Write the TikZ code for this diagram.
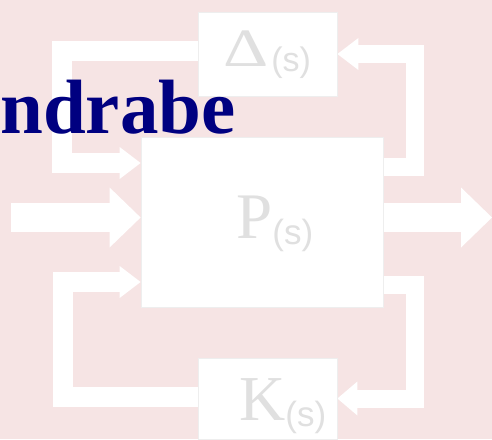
\documentclass[tikz,border=0pt]{standalone}
\usepackage{fontspec}
\setmainfont{Liberation Serif}
\newfontfamily\arialf{Liberation Sans}
\usetikzlibrary{arrows.meta}
\definecolor{bgpink}{RGB}{246,228,228}
\definecolor{navytxt}{RGB}{0,0,128}
\definecolor{lbl}{RGB}{224,224,224}
\definecolor{edge}{RGB}{238,238,238}
\tikzset{
  box/.style={fill=white, draw=edge, line width=0.8pt, inner sep=0pt},
  fat/.style={draw=white, line width=20pt, line join=miter, line cap=butt,
    -{Triangle[length=21pt,width=32pt,line width=0pt 0]}},
  bigarrow/.style={draw=white, line width=29pt, line cap=butt,
    -{Triangle[length=31pt,width=60pt,line width=0pt 0]}},
  lab/.style={text=lbl, inner sep=0pt},
}
\begin{document}
\begin{tikzpicture}[x=1pt,y=-1pt]
\useasboundingbox (0,0) rectangle (492,439);
\clip (0,0) rectangle (492,439);
\fill[bgpink] (0,0) rectangle (492,439);

% boxes
\node[box, minimum width=139pt, minimum height=84pt] (delta) at (267.5,54) {};
\node[box, minimum width=242pt, minimum height=170pt] (P) at (262,222) {};
\node[box, minimum width=139pt, minimum height=81pt] (K) at (267.5,398.5) {};

% bend points
\coordinate (tl1) at (62,51);
\coordinate (tl2) at (62,163);
\coordinate (tr1) at (414.5,167);
\coordinate (tr2) at (414.5,54);
\coordinate (bl1) at (63,396.5);
\coordinate (bl2) at (63,282);
\coordinate (br1) at (414.5,285);
\coordinate (br2) at (414.5,398.5);
\coordinate (in) at (11,217.5);
\coordinate (out) at (492,217.5);

% connectors
\draw[fat] ([yshift=3pt]delta.west) -- (tl1) -- (tl2) -- (P.west |- tl2);
\draw[fat, line width=18pt] (P.east |- tr1) -- (tr1) -- (tr2) -- (delta.east);
\draw[fat] ([yshift=2pt]K.west) -- (bl1) -- (bl2) -- (P.west |- bl2);
\draw[fat, line width=18pt, -{Triangle[length=20pt,width=34pt,line width=0pt 0]}] (P.east |- br1) -- (br1) -- (br2) -- (K.east);
\draw[bigarrow] (in) -- (P.west |- in);
\draw[bigarrow] (P.east |- out) -- (out);

% redraw box faces over connector ends
\node[box, minimum width=139pt, minimum height=84pt] at (delta) {};
\node[box, minimum width=242pt, minimum height=170pt] at (P) {};
\node[box, minimum width=139pt, minimum height=81pt] at (K) {};

% labels
\node[lab, anchor=base west, font=\fontsize{54}{54}\selectfont] (dl) at (223,66) {\scalebox{1.3}[1]{Δ}\hspace{3pt}\raisebox{-5pt}{\arialf\fontsize{34}{34}\selectfont(s)}};
\node[lab, anchor=base west, font=\fontsize{65}{65}\selectfont] (pl) at (236,238) {P\raisebox{-6pt}{\arialf\fontsize{35}{35}\selectfont(s)}};
\node[lab, anchor=base west, font=\fontsize{64}{64}\selectfont] (kl) at (239,420) {K\raisebox{-6pt}{\arialf\fontsize{35}{35}\selectfont(s)}};

% title fragment
\node[anchor=base west, inner sep=0pt, text=navytxt, font=\fontsize{77}{77}\selectfont\bfseries] (title) at (0,133) {ndrabe};
\end{tikzpicture}
\end{document}
